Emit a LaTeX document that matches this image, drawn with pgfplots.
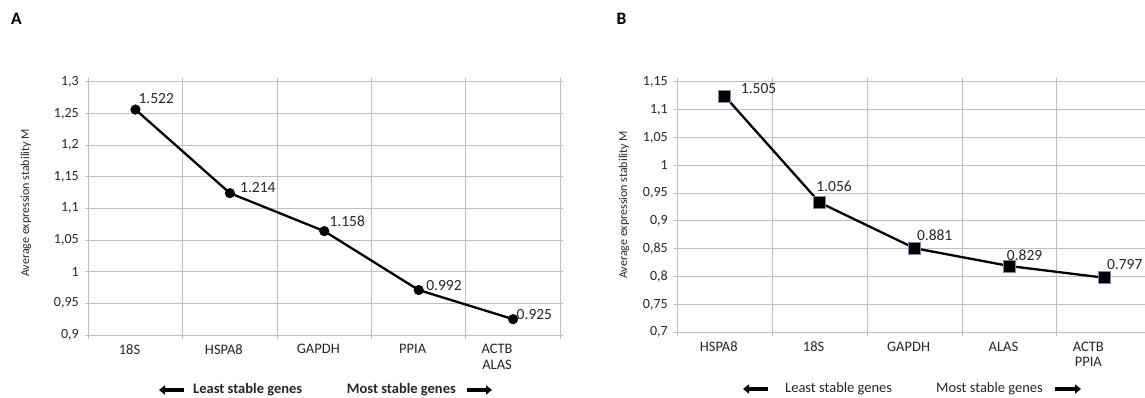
\documentclass[border=0pt]{standalone}
\usepackage{fontspec}
\setmainfont{Carlito}
\usepackage{pgfplots}
\pgfplotsset{compat=1.18}
\usepackage{pgfplotstable}
\usetikzlibrary{arrows.meta}
\definecolor{gridgray}{HTML}{BEBEBE}
\definecolor{sqedge}{HTML}{8E80A8}
\definecolor{txt}{HTML}{262626}

\pgfplotstableread{
x y lab dx dy
0 1.256 1.522 2.8 11
1 1.124 1.214 10 5.6
2 1.064 1.158 5 10
3 0.971 0.992 7.4 5
4 0.925 0.925 3.4 5
}\dataA

\pgfplotstableread{
x y lab dx dy
0 1.124 1.505 15.7 7.7
1 0.933 1.056 -3.7 16
2 0.851 0.881 2 13.3
3 0.819 0.829 -3 11
4 0.798 0.797 2.3 13.4
}\dataB

\pgfplotsset{panel/.style={
  scale only axis,
  xmin=-0.5, xmax=4.5,
  xtick={0,1,2,3,4},
  minor xtick={-0.5,0.5,1.5,2.5,3.5,4.5},
  xminorgrids=true, ymajorgrids=true,
  grid style={gridgray, line width=0.9pt},
  minor grid style={gridgray, line width=0.9pt},
  axis line style={gridgray, line width=0.9pt},
  tick align=outside,
  major tick length=3pt, minor tick length=4pt,
  major x tick style={draw=none},
  minor x tick style={gridgray, line width=0.9pt},
  y tick style={gridgray, line width=0.9pt},
  /pgf/number format/assume math mode=true,
  /pgf/number format/use comma,
  /pgf/number format/fixed,
  /pgf/number format/precision=2,
  tick label style={font=\fontsize{14}{15.3}\selectfont, text=txt},
  xticklabel style={align=center, anchor=north, yshift=-3pt, xshift=-6pt,
    font=\fontsize{14.5}{15.3}\selectfont},
  yticklabel style={anchor=east, xshift=-3pt},
}}

\begin{document}
\begin{tikzpicture}[x=1pt,y=1pt]
\path[use as bounding box] (0,0) rectangle (1145,398);

% Panel A
\begin{axis}[panel,
  at={(88.3pt,63pt)}, anchor=south west,
  width=472pt, height=253.3pt,
  ymin=0.9, ymax=1.3,
  ytick={0.9,0.95,1,1.05,1.1,1.15,1.2,1.25,1.3},
  xticklabels={18S,HSPA8,GAPDH,PPIA,{ACTB\hspace*{20pt}\\ALAS\hspace*{20pt}}},
]
\addplot[black, line width=2.3pt, mark=*, mark size=4.8pt,
  mark options={fill=black, line width=0.5pt},
  nodes near coords, point meta=explicit symbolic,
  visualization depends on=\thisrow{dx} \as \labdx,
  visualization depends on=\thisrow{dy} \as \labdy,
  nodes near coords style={anchor=west, inner sep=0pt,
    xshift=\labdx*1pt, yshift=\labdy*1pt,
    font=\fontsize{15.5}{17}\selectfont, text=txt}]
  table[x=x, y=y, meta=lab]{\dataA};
\end{axis}

% Panel B
\begin{axis}[panel,
  at={(677.3pt,65.7pt)}, anchor=south west,
  width=474.5pt, height=250.6pt,
  ymin=0.7, ymax=1.15,
  ytick={0.7,0.75,0.8,0.85,0.9,0.95,1,1.05,1.1,1.15},
  xticklabels={HSPA8,18S,GAPDH,ALAS,{ACTB\hspace*{20pt}\\PPIA\hspace*{20pt}}},
]
\addplot[black, line width=2.3pt, mark=square*, mark size=6pt,
  mark options={fill=black, draw=sqedge, line width=0.9pt},
  nodes near coords, point meta=explicit symbolic,
  visualization depends on=\thisrow{dx} \as \labdx,
  visualization depends on=\thisrow{dy} \as \labdy,
  nodes near coords style={anchor=west, inner sep=0pt,
    xshift=\labdx*1pt, yshift=\labdy*1pt,
    font=\fontsize{15.5}{17}\selectfont, text=txt}]
  table[x=x, y=y, meta=lab]{\dataB};
\end{axis}

% panel letters
\node[font=\fontsize{17.5}{18}\selectfont\bfseries] at (16.5,379) {A};
\node[font=\fontsize{17.5}{18}\selectfont\bfseries] at (621.4,379) {B};

% y labels
\node[rotate=90, font=\fontsize{12}{13}\selectfont, text=txt] at (26,195) {Average expression stability M};
\node[rotate=90, font=\fontsize{12}{13}\selectfont, text=txt] at (624,193) {Average expression stability M};

% legends A
\draw[line width=3.8pt, -{Triangle[length=6pt,width=9pt]}] (184,8) -- (159,8);
\node[anchor=west, inner sep=0pt, font=\fontsize{14.5}{15}\selectfont\bfseries, text=txt] at (193,8) {Least stable genes};
\node[anchor=east, inner sep=0pt, font=\fontsize{14.5}{15}\selectfont\bfseries, text=txt] at (456,8) {Most stable genes};
\draw[line width=3.8pt, -{Triangle[length=6pt,width=9pt]}] (467,8) -- (492,8);

% legends B
\draw[line width=3.8pt, -{Triangle[length=6pt,width=9pt]}] (768,9) -- (743,9);
\node[anchor=west, inner sep=0pt, font=\fontsize{14.5}{15}\selectfont, text=txt] at (785,9) {Least stable genes};
\node[anchor=east, inner sep=0pt, font=\fontsize{14.5}{15}\selectfont, text=txt] at (1043,9) {Most stable genes};
\draw[line width=3.8pt, -{Triangle[length=6pt,width=9pt]}] (1055,9) -- (1081,9);
\end{tikzpicture}
\end{document}
